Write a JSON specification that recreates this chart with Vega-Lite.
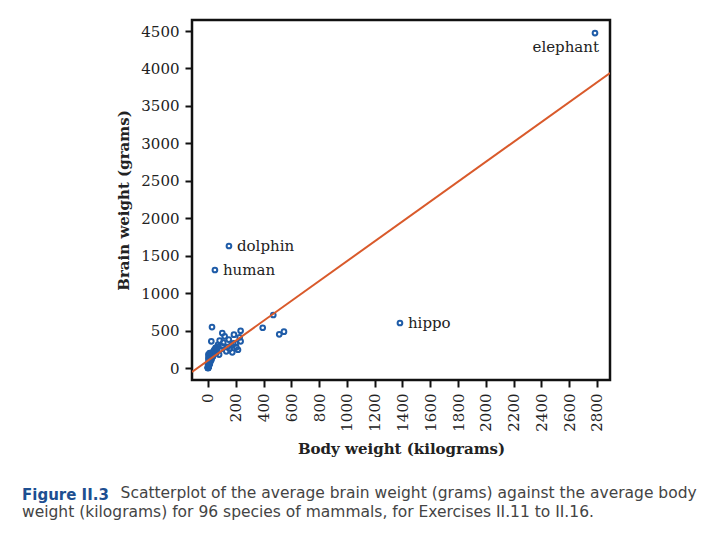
{
  "$schema": "https://vega.github.io/schema/vega-lite/v6.json",
  "width": 418,
  "height": 360,
  "autosize": {"type": "none"},
  "padding": {"left": 192, "top": 20, "right": 95, "bottom": 155},
  "background": "white",
  "config": {
    "view": {"stroke": "#111111", "strokeWidth": 2.5},
    "font": "DejaVu Serif"
  },
  "title": {
    "text": "Figure II.3",
    "orient": "bottom",
    "anchor": "start",
    "frame": "group",
    "dx": -170,
    "offset": 32,
    "font": "DejaVu Sans",
    "fontSize": 15,
    "fontWeight": "bold",
    "color": "#1d4f91",
    "subtitle": [
      "\u200b\u00a0\u00a0\u00a0\u00a0\u00a0\u00a0\u00a0\u00a0\u00a0\u00a0\u00a0\u00a0\u00a0\u00a0\u00a0\u00a0\u00a0\u00a0\u00a0\u00a0Scatterplot of the average brain weight (grams) against the average body",
      "weight (kilograms) for 96 species of mammals, for Exercises II.11 to II.16."
    ],
    "subtitleFont": "DejaVu Sans",
    "subtitleFontSize": 15.5,
    "subtitleColor": "#444444",
    "subtitleLineHeight": 19,
    "subtitlePadding": -17
  },
  "datasets": {
    "pts": [
      {"body": 2786, "brain": 4473, "name": "elephant"},
      {"body": 151, "brain": 1629, "name": "dolphin"},
      {"body": 50, "brain": 1309, "name": "human"},
      {"body": 1382, "brain": 601, "name": "hippo"},
      {"body": 470, "brain": 708, "name": ""},
      {"body": 394, "brain": 538, "name": ""},
      {"body": 513, "brain": 450, "name": ""},
      {"body": 547, "brain": 485, "name": ""},
      {"body": 29, "brain": 547, "name": ""},
      {"body": 103, "brain": 467, "name": ""},
      {"body": 187, "brain": 445, "name": ""},
      {"body": 235, "brain": 498, "name": ""},
      {"body": 24, "brain": 357, "name": ""},
      {"body": 84, "brain": 365, "name": ""},
      {"body": 120, "brain": 423, "name": ""},
      {"body": 228, "brain": 410, "name": ""},
      {"body": 235, "brain": 357, "name": ""},
      {"body": 101, "brain": 290, "name": ""},
      {"body": 168, "brain": 303, "name": ""},
      {"body": 204, "brain": 276, "name": ""},
      {"body": 132, "brain": 223, "name": ""},
      {"body": 175, "brain": 210, "name": ""},
      {"body": 216, "brain": 244, "name": ""},
      {"body": 156, "brain": 258, "name": ""},
      {"body": 48, "brain": 231, "name": ""},
      {"body": 12, "brain": 200, "name": ""},
      {"body": 60, "brain": 200, "name": ""},
      {"body": 3, "brain": 134, "name": ""},
      {"body": 36, "brain": 156, "name": ""},
      {"body": 12, "brain": 89, "name": ""},
      {"body": 0.5, "brain": 5, "name": ""},
      {"body": 2, "brain": 23, "name": ""},
      {"body": 24, "brain": 111, "name": ""},
      {"body": 0.2, "brain": 44, "name": ""},
      {"body": 72, "brain": 311, "name": ""},
      {"body": 3, "brain": 178, "name": ""},
      {"body": 182, "brain": 330, "name": ""},
      {"body": 110, "brain": 338, "name": ""},
      {"body": 38, "brain": 218, "name": ""},
      {"body": 0.5, "brain": 3, "name": ""},
      {"body": 1, "brain": 6, "name": ""},
      {"body": 0.2, "brain": 2, "name": ""},
      {"body": 2, "brain": 12, "name": ""},
      {"body": 3, "brain": 25, "name": ""},
      {"body": 4, "brain": 30, "name": ""},
      {"body": 5, "brain": 40, "name": ""},
      {"body": 6, "brain": 50, "name": ""},
      {"body": 8, "brain": 60, "name": ""},
      {"body": 10, "brain": 70, "name": ""},
      {"body": 12, "brain": 80, "name": ""},
      {"body": 14, "brain": 95, "name": ""},
      {"body": 1.5, "brain": 10, "name": ""},
      {"body": 2.5, "brain": 18, "name": ""},
      {"body": 0.8, "brain": 5, "name": ""},
      {"body": 7, "brain": 45, "name": ""},
      {"body": 9, "brain": 75, "name": ""},
      {"body": 11, "brain": 100, "name": ""},
      {"body": 15, "brain": 110, "name": ""},
      {"body": 18, "brain": 120, "name": ""},
      {"body": 20, "brain": 130, "name": ""},
      {"body": 22, "brain": 140, "name": ""},
      {"body": 25, "brain": 160, "name": ""},
      {"body": 28, "brain": 170, "name": ""},
      {"body": 3.5, "brain": 35, "name": ""},
      {"body": 4.5, "brain": 20, "name": ""},
      {"body": 6.5, "brain": 65, "name": ""},
      {"body": 16, "brain": 90, "name": ""},
      {"body": 19, "brain": 150, "name": ""},
      {"body": 30, "brain": 190, "name": ""},
      {"body": 35, "brain": 180, "name": ""},
      {"body": 40, "brain": 210, "name": ""},
      {"body": 45, "brain": 240, "name": ""},
      {"body": 13, "brain": 55, "name": ""},
      {"body": 17, "brain": 85, "name": ""},
      {"body": 24, "brain": 115, "name": ""},
      {"body": 0.1, "brain": 1, "name": ""},
      {"body": 1.2, "brain": 15, "name": ""},
      {"body": 2.2, "brain": 8, "name": ""},
      {"body": 5.5, "brain": 28, "name": ""},
      {"body": 8.5, "brain": 42, "name": ""},
      {"body": 10.5, "brain": 120, "name": ""},
      {"body": 26, "brain": 200, "name": ""},
      {"body": 33, "brain": 150, "name": ""},
      {"body": 50, "brain": 250, "name": ""},
      {"body": 55, "brain": 270, "name": ""},
      {"body": 65, "brain": 260, "name": ""},
      {"body": 70, "brain": 280, "name": ""},
      {"body": 9, "brain": 160, "name": ""},
      {"body": 6, "brain": 110, "name": ""},
      {"body": 1, "brain": 60, "name": ""},
      {"body": 4, "brain": 85, "name": ""},
      {"body": 90, "brain": 250, "name": ""},
      {"body": 140, "brain": 280, "name": ""},
      {"body": 200, "brain": 330, "name": ""},
      {"body": 150, "brain": 380, "name": ""},
      {"body": 80, "brain": 180, "name": ""}
    ],
    "fit": [
      {"body": -115, "brain": -53},
      {"body": 2894, "brain": 3939}
    ]
  },
  "encoding": {
    "x": {
      "field": "body",
      "type": "quantitative",
      "scale": {"domain": [-115, 2894], "nice": false, "zero": false},
      "axis": {
        "title": "Body weight (kilograms)",
        "values": [0, 200, 400, 600, 800, 1000, 1200, 1400, 1600, 1800, 2000, 2200, 2400, 2600, 2800],
        "format": "d",
        "labelAngle": -90,
        "labelFont": "DejaVu Serif",
        "labelFontSize": 15,
        "labelColor": "#222222",
        "labelPadding": 6,
        "tickSize": 7,
        "tickWidth": 2,
        "tickColor": "#111111",
        "domain": false,
        "grid": false,
        "titleFont": "DejaVu Serif",
        "titleFontSize": 15,
        "titleFontWeight": "bold",
        "titleColor": "#222222",
        "titlePadding": 10
      }
    },
    "y": {
      "field": "brain",
      "type": "quantitative",
      "scale": {"domain": [-160, 4647], "nice": false, "zero": false},
      "axis": {
        "title": "Brain weight (grams)",
        "values": [0, 500, 1000, 1500, 2000, 2500, 3000, 3500, 4000, 4500],
        "format": "d",
        "labelFont": "DejaVu Serif",
        "labelFontSize": 15,
        "labelColor": "#222222",
        "labelPadding": 6,
        "tickSize": 7,
        "tickWidth": 2,
        "tickColor": "#111111",
        "domain": false,
        "grid": false,
        "titleFont": "DejaVu Serif",
        "titleFontSize": 15,
        "titleFontWeight": "bold",
        "titleColor": "#222222",
        "titlePadding": 9
      }
    }
  },
  "layer": [
    {
      "data": {"name": "pts"},
      "mark": {"type": "point", "filled": false, "color": "#1f5ca8", "strokeWidth": 2, "size": 22, "opacity": 1}
    },
    {
      "data": {"name": "fit"},
      "mark": {"type": "line", "color": "#d95a2b", "strokeWidth": 2, "clip": true}
    },
    {
      "data": {"name": "pts"},
      "transform": [{"filter": "datum.name == 'elephant'"}],
      "mark": {"type": "text", "align": "right", "baseline": "middle", "dx": 4, "dy": 14, "font": "DejaVu Serif", "fontSize": 15, "color": "#222222"},
      "encoding": {"text": {"field": "name"}}
    },
    {
      "data": {"name": "pts"},
      "transform": [{"filter": "datum.name != '' && datum.name != 'elephant'"}],
      "mark": {"type": "text", "align": "left", "baseline": "middle", "dx": 8, "font": "DejaVu Serif", "fontSize": 15, "color": "#222222"},
      "encoding": {"text": {"field": "name"}}
    }
  ]
}
